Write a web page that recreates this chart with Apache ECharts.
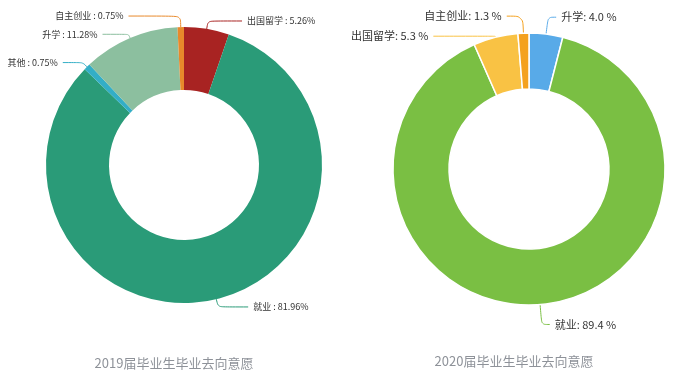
<!DOCTYPE html>
<html><head><meta charset="utf-8">
<script src="https://cdn.jsdelivr.net/npm/echarts@6/dist/echarts.min.js"></script>
<style>html,body{margin:0;padding:0;background:#fff}#c{width:687px;height:381px}</style>
</head><body><div id="c"></div>
<script>
const names2019 = ['出国留学','就业','其他','升学','自主创业'];
const values2019 = [5.26, 81.96, 0.75, 11.28, 0.75];
const colors2019 = ['#a82322','#2a9b78','#33aec6','#8cbf9f','#e8892b'];
const names2020 = ['升学','就业','出国留学','自主创业'];
const values2020 = [4.0, 89.4, 5.3, 1.3];
const colors2020 = ['#58aae8','#7abf43','#f9c244','#f4a11e'];
const titles = ['2019届毕业生毕业去向意愿','2020届毕业生毕业去向意愿'];

// label guide-line lengths [length, length2] per slice (styling only)
const lines2019 = [[8,34],[8,30],[6,20],[4,26],[11,52]];
const lines2020 = [[17,8],[20,8],[1,62],[17,16]];

const font = '"Noto Sans CJK SC", "Noto Sans", sans-serif';
const chart = echarts.init(document.getElementById('c'));
chart.setOption({
  animation:false,
  textStyle:{fontFamily:font},
  title:[
    {text:titles[0], left:169, top:352, textAlign:'center', textStyle:{fontSize:13, fontWeight:'normal', color:'#8e9299', fontFamily:font}},
    {text:titles[1], left:509, top:350, textAlign:'center', textStyle:{fontSize:13, fontWeight:'normal', color:'#8e9299', fontFamily:font}}
  ],
  series:[
    {type:'pie', center:[184,165], radius:[75,138], startAngle:90, clockwise:true,
     avoidLabelOverlap:false, bleedMargin:0,
     labelLayout:{hideOverlap:false},
     data:names2019.map((n,i)=>({name:n,value:values2019[i],itemStyle:{color:colors2019[i]},
       labelLine:{length:lines2019[i][0],length2:lines2019[i][1]}})),
     label:{formatter:'{b} : {d}%', fontSize:9, color:'#333', fontFamily:font, overflow:'none'},
     labelLine:{smooth:true}
    },
    {type:'pie', center:[529,169], radius:[80,136], startAngle:90, clockwise:true,
     avoidLabelOverlap:false,
     labelLayout:{hideOverlap:false},
     itemStyle:{borderColor:'#fff', borderWidth:1.5},
     data:names2020.map((n,i)=>({name:n,value:values2020[i],itemStyle:{color:colors2020[i]},
       labelLine:{length:lines2020[i][0],length2:lines2020[i][1]}})),
     label:{formatter:p=>p.name+': '+p.value.toFixed(1)+' %', fontSize:11, color:'#333', fontFamily:font},
     labelLine:{smooth:true}
    }
  ]
});
</script></body></html>
